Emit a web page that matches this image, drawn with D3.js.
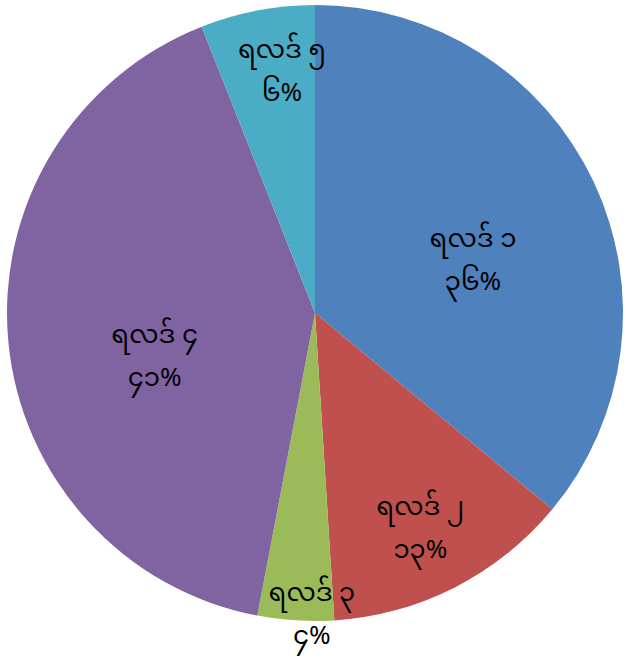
<!DOCTYPE html>
<html>
<head>
<meta charset="utf-8">
<script src="https://cdn.jsdelivr.net/npm/d3@7"></script>
<style>
  body { margin: 0; background: #fff; }
  text { font-family: "Noto Sans Myanmar", "Padauk", "Myanmar Text", "Noto Sans", sans-serif; }
</style>
</head>
<body>
<div id="chart"></div>
<script>
const categories = ['ရလဒ် ၁', 'ရလဒ် ၂', 'ရလဒ် ၃', 'ရလဒ် ၄', 'ရလဒ် ၅']
const values = [36, 13, 4, 41, 6]
const percentLabels = ['၃၆%', '၁၃%', '၄%', '၄၁%', '၆%']
const colors = ['#4f81bd', '#c0504d', '#9bbb59', '#8064a2', '#4bacc6']

const width = 629
const height = 662
const cx = 315
const cy = 313
const radius = 308

// excel "best fit" label placement, radius fraction and angle nudge per slice
const labelRadius = [0.54, 0.78, 0.98, 0.54, 0.79]
const labelNudge = [7, 1, -3, -10, 3]

const svg = d3.select('#chart').append('svg')
  .attr('width', width)
  .attr('height', height)

const g = svg.append('g')
  .attr('transform', `translate(${cx},${cy})`)

const pie = d3.pie().sort(null).value(d => d)
const arcs = pie(values)

const arc = d3.arc()
  .innerRadius(0)
  .outerRadius(radius)

g.selectAll('path')
  .data(arcs)
  .enter().append('path')
  .attr('d', arc)
  .attr('fill', (d, i) => colors[i])

const labels = g.selectAll('g.label')
  .data(arcs)
  .enter().append('g')
  .attr('class', 'label')
  .attr('transform', (d, i) => {
    const a = (d.startAngle + d.endAngle) / 2 + labelNudge[i] * Math.PI / 180
    const r = radius * labelRadius[i]
    return `translate(${r * Math.sin(a)},${-r * Math.cos(a)})`
  })

labels.append('text')
  .attr('text-anchor', 'middle')
  .attr('y', -14)
  .attr('font-size', 26)
  .attr('fill', '#000')
  .text((d, i) => categories[i])

labels.append('text')
  .attr('text-anchor', 'middle')
  .attr('y', 29)
  .attr('font-size', 26)
  .attr('fill', '#000')
  .text((d, i) => percentLabels[i])
</script>
</body>
</html>
